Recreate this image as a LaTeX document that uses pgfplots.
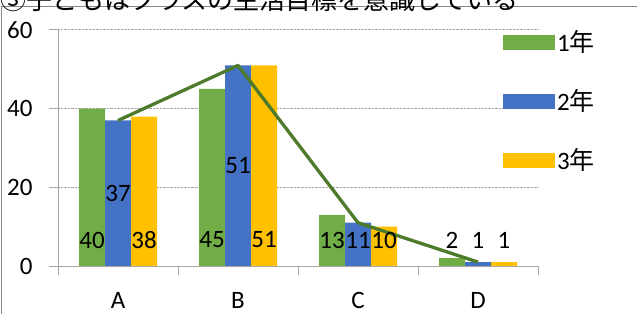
\documentclass[border=0pt]{standalone}
\usepackage{pgfplots}
\pgfplotsset{compat=1.18}
\usepackage{fontspec}
\setmainfont{Carlito}
\newfontfamily\cjk{Noto Sans CJK JP}
\definecolor{c1}{HTML}{70AD47}
\definecolor{c2}{HTML}{4472C4}
\definecolor{c3}{HTML}{FFC000}
\definecolor{lineg}{HTML}{4E7A2B}
\definecolor{axisgray}{HTML}{A6A6A6}
\definecolor{framegray}{HTML}{868686}
\newcommand{\lblfont}{\fontsize{25bp}{30bp}\selectfont}
\begin{document}
\begin{tikzpicture}
\useasboundingbox (0,0) rectangle (637bp,314bp);
\begin{axis}[
  at={(58bp,48bp)}, anchor=south west,
  scale only axis, width=480bp, height=236bp,
  xmin=-0.5, xmax=3.5, ymin=0, ymax=60,
  axis x line*=bottom, axis y line*=left,
  axis line style={draw=axisgray, line width=1bp},
  tick align=outside, major tick length=9bp,
  tick style={draw=axisgray, line width=1bp},
  /pgf/number format/assume math mode=true,
  ytick={0,20,40,60},
  xtick={-0.5,0.5,1.5,2.5,3.5}, xticklabels={,,,,},
  extra x ticks={0,1,2,3}, extra x tick labels={A,B,C,D},
  extra x tick style={major tick length=0pt},
  ymajorgrids, grid style={densely dotted, draw=axisgray, line width=1bp},
  ticklabel style={font=\lblfont, text=black},
  yticklabel style={xshift=-13bp},
  xticklabel style={inner sep=0pt, text depth=0pt, yshift=-26bp},
  legend style={at={(axis description cs:0.927,1.005)}, anchor=north west,
    draw=none, fill=none, inner sep=0pt, row sep=30bp, column sep=0pt,
    font=\lblfont, nodes={inner sep=2bp, text height=20bp, text depth=5bp}},
  legend cell align=left,
]
\addplot[ybar, bar width=26bp, bar shift=-26bp, fill=c1, draw=none,
  legend image code/.code={\fill[c1] (0bp,-6.5bp) rectangle (52bp,8.5bp);}]
  coordinates {(0,40) (1,45) (2,13) (3,2)};
\addlegendentry{1{\cjk 年}}
\addplot[ybar, bar width=26bp, bar shift=0bp, fill=c2, draw=none,
  legend image code/.code={\fill[c2] (0bp,-6.5bp) rectangle (52bp,8.5bp);}]
  coordinates {(0,37) (1,51) (2,11) (3,1)};
\addlegendentry{2{\cjk 年}}
\addplot[ybar, bar width=26bp, bar shift=26bp, fill=c3, draw=none,
  legend image code/.code={\fill[c3] (0bp,-6.5bp) rectangle (52bp,8.5bp);}]
  coordinates {(0,38) (1,51) (2,10) (3,1)};
\addlegendentry{3{\cjk 年}}
\addplot[forget plot, mark=none, color=lineg, line width=3.3bp, line join=round]
  coordinates {(0,37) (1,51) (2,11) (3,1)};
\addplot[forget plot, only marks, mark=*, mark size=0pt, mark options={draw=none, fill=none},
  nodes near coords, point meta=explicit symbolic,
  every node near coord/.style={anchor=center, inner sep=0pt, font=\lblfont, text=black}]
  table[meta=l] {
x y l
-0.21667 6.6 40
0 18.5 37
0.21667 6.6 38
0.78333 6.6 45
1 25.5 51
1.21667 6.6 51
1.78333 6.6 13
2 6.6 11
2.21667 6.6 10
2.78333 6.6 2
3 6.6 1
3.21667 6.6 1
};
\end{axis}
\draw[framegray, line width=1bp] (1.7bp,-5bp) -- (1.7bp,307.5bp) -- (645bp,307.5bp);
\node[anchor=base west, inner sep=0pt, font=\cjk\fontsize{26bp}{30bp}\selectfont] at (0bp,304bp) {③子どもはクラスの生活目標を意識している};
\end{tikzpicture}
\end{document}
